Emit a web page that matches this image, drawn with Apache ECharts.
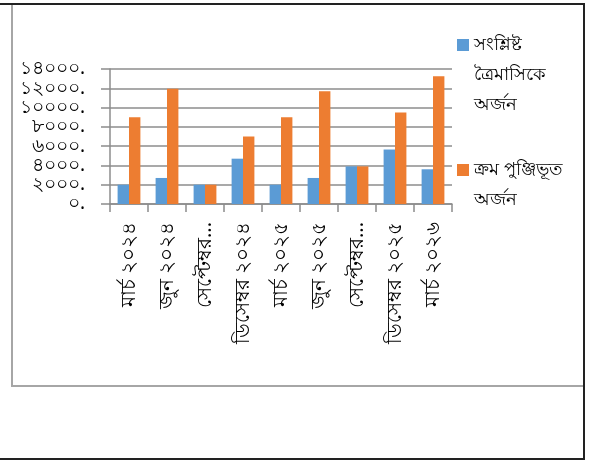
<!DOCTYPE html>
<html>
<head>
<meta charset="utf-8">
<script src="https://cdn.jsdelivr.net/npm/echarts@6/dist/echarts.min.js"></script>
<style>
html,body{margin:0;padding:0;background:#fff;}
#c{width:600px;height:461px;}
</style>
</head>
<body>
<div id="c"></div>
<script>
const categories = ['মার্চ ২০২৪','জুন ২০২৪','সেপ্টেম্বর ২০২৪','ডিসেম্বর ২০২৪','মার্চ ২০২৫','জুন ২০২৫','সেপ্টেম্বর ২০২৫','ডিসেম্বর ২০২৫','মার্চ ২০২৬'];
const xTickLabels = ['মার্চ ২০২৪','জুন ২০২৪','সেপ্টেম্বর...','ডিসেম্বর ২০২৪','মার্চ ২০২৫','জুন ২০২৫','সেপ্টেম্বর...','ডিসেম্বর ২০২৫','মার্চ ২০২৬'];
const quarterly = [2000, 2700, 2000, 4700, 2000, 2700, 3900, 5650, 3600];
const cumulative = [9000, 11950, 2000, 7000, 9000, 11700, 3900, 9500, 13250];
const yTickLabels = ['০.','২০০০.','৪০০০.','৬০০০.','৮০০০.','১০০০০.','১২০০০.','১৪০০০.'];
const seriesNames = ['সংশ্লিষ্ট ত্রৈমাসিকে অর্জন','ক্রম পুঞ্জিভূত অর্জন'];
const legendLines = {'সংশ্লিষ্ট ত্রৈমাসিকে অর্জন':'সংশ্লিষ্ট\nত্রৈমাসিকে\nঅর্জন','ক্রম পুঞ্জিভূত অর্জন':'ক্রম পুঞ্জিভূত\nঅর্জন'};

const chart = echarts.init(document.getElementById('c'));
const FONT = "'Noto Sans', sans-serif";
const LH = 30;
const legendText = {color:'#000', fontSize:18, fontFamily:FONT, lineHeight:LH};
function topIcon(h){ return 'path://M0,9h12v12h-12zM0,0h0.01v0.01h-0.01zM0,'+(h-0.01)+'h0.01v0.01h-0.01z'; }
chart.setOption({
  animation:false,
  backgroundColor:'#fff',
  grid:{left:110, right:148, top:69, bottom:257, containLabel:false},
  legend:[
    {data:[{name:seriesNames[0], icon:topIcon(3*LH)}], orient:'vertical', left:457, top:30, itemWidth:12, itemHeight:3*LH, symbolKeepAspect:false, itemGap:0, padding:0,
     formatter:n=>legendLines[n], textStyle:legendText},
    {data:[{name:seriesNames[1], icon:topIcon(2*LH)}], orient:'vertical', left:457, top:155, itemWidth:12, itemHeight:2*LH, symbolKeepAspect:false, itemGap:0, padding:0,
     formatter:n=>legendLines[n], textStyle:legendText}
  ],
  xAxis:{type:'category', data:categories,
    axisLine:{lineStyle:{color:'#8c8c8c', width:1.5}},
    axisTick:{show:true, length:8, lineStyle:{color:'#8c8c8c', width:1.5}},
    axisLabel:{rotate:90, interval:0, margin:18, color:'#000', fontSize:20, lineHeight:16, fontFamily:FONT, hideOverlap:false,
      formatter:(v,i)=>xTickLabels[i]}
  },
  yAxis:{type:'value', min:0, max:14000, interval:2000,
    axisLine:{show:true, lineStyle:{color:'#8c8c8c', width:1.5}},
    axisTick:{show:true, length:9, lineStyle:{color:'#8c8c8c', width:1.5}},
    splitLine:{show:true, lineStyle:{color:'#8c8c8c', width:1.5}},
    axisLabel:{margin:25, color:'#000', fontSize:19, lineHeight:15, fontFamily:FONT, showMinLabel:true, showMaxLabel:true, hideOverlap:false,
      formatter:v=>yTickLabels[Math.round(v/2000)]}
  },
  series:[
    {name:seriesNames[0], type:'bar', data:quarterly, barGap:'0%', barCategoryGap:'40%', itemStyle:{color:'#5B9BD5'}},
    {name:seriesNames[1], type:'bar', data:cumulative, barGap:'0%', barCategoryGap:'40%', itemStyle:{color:'#ED7D31'}}
  ],
  graphic:[
    {type:'rect', shape:{x:12, y:4, width:572, height:382}, style:{fill:'none', stroke:'#a6a6a6', lineWidth:2}, silent:true, z:-1},
    {type:'line', shape:{x1:0, y1:4, x2:585, y2:4}, style:{stroke:'#222', lineWidth:2}, silent:true},
    {type:'line', shape:{x1:584, y1:4, x2:584, y2:460}, style:{stroke:'#222', lineWidth:2}, silent:true},
    {type:'line', shape:{x1:0, y1:459, x2:585, y2:459}, style:{stroke:'#222', lineWidth:2}, silent:true}
  ]
});
</script>
</body>
</html>
